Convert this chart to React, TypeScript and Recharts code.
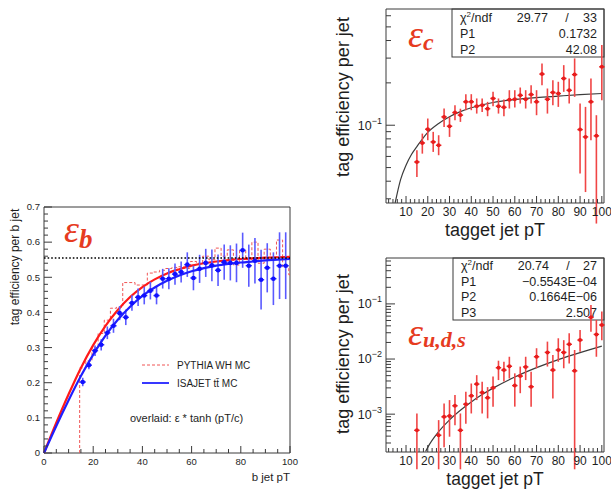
import React from 'react';
import { ComposedChart, Line, Scatter, ErrorBar, XAxis, YAxis, ReferenceLine, ReferenceArea, Legend, Label } from 'recharts';

const W = 611;
const H = 493;
const FONT = '"Liberation Sans", Arial, Helvetica, sans-serif';
const SERIF = '"Liberation Serif", "DejaVu Serif", serif';
const AXIS = '#3a3a3a';
const INK = '#1e1e1e';
const EPS_RED = '#e63b1f';

// ---- b jet panel ----
const FIT_X = [0, 5, 10, 15, 20, 25, 30, 35, 40, 45, 50, 55, 60, 65, 70, 75, 80, 85, 90, 95, 100];
const PYTHIA_FIT = [0, 0.086, 0.167, 0.242, 0.307, 0.362, 0.407, 0.444, 0.472, 0.494, 0.511, 0.523, 0.533, 0.54, 0.545, 0.549, 0.552, 0.554, 0.556, 0.557, 0.558];
const ISAJET_FIT = [0, 0.077, 0.15, 0.219, 0.28, 0.334, 0.379, 0.416, 0.447, 0.471, 0.49, 0.505, 0.517, 0.526, 0.533, 0.538, 0.542, 0.545, 0.548, 0.55, 0.552];
const HIST_EDGE = [14.5, 17, 19.5, 22, 24.5, 27, 29.5, 32, 34.5, 37, 39.5, 42, 44.5, 47, 49.5, 52, 54.5, 57, 59.5, 62, 64.5, 67, 69.5, 72, 74.5, 77, 79.5, 82, 84.5, 87, 89.5, 92, 94.5, 97, 99.5, 100];
const HIST_VAL = [0.242, 0.262, 0.3, 0.34, 0.378, 0.412, 0.415, 0.485, 0.485, 0.478, 0.478, 0.512, 0.515, 0.52, 0.525, 0.528, 0.53, 0.525, 0.545, 0.54, 0.56, 0.55, 0.583, 0.56, 0.578, 0.535, 0.578, 0.55, 0.6, 0.54, 0.58, 0.555, 0.606, 0.53, 0.507, 0.507];
const ISA_X = [15.75, 18.25, 20.75, 23.25, 25.75, 28.25, 30.75, 33.25, 35.75, 38.25, 40.75, 43.25, 45.75, 48.25, 50.75, 53.25, 55.75, 58.25, 60.75, 63.25, 65.75, 68.25, 70.75, 73.25, 75.75, 78.25, 80.75, 83.25, 85.75, 88.25, 90.75, 93.25, 95.75, 98.25];
const ISA_Y = [0.202, 0.25, 0.291, 0.308, 0.342, 0.362, 0.398, 0.386, 0.427, 0.443, 0.448, 0.462, 0.448, 0.496, 0.496, 0.509, 0.515, 0.536, 0.498, 0.524, 0.541, 0.534, 0.52, 0.543, 0.541, 0.541, 0.577, 0.533, 0.547, 0.493, 0.527, 0.496, 0.533, 0.533];
const ISA_ERR = [0.012, 0.012, 0.015, 0.016, 0.018, 0.02, 0.02, 0.022, 0.022, 0.025, 0.025, 0.025, 0.025, 0.028, 0.03, 0.03, 0.03, 0.035, 0.035, 0.04, 0.04, 0.045, 0.045, 0.05, 0.05, 0.055, 0.05, 0.06, 0.065, 0.085, 0.07, 0.075, 0.095, 0.095];
const B_PLATEAU = 0.555;
const B_X_MAJOR = [0, 20, 40, 60, 80, 100];
const B_Y_MAJOR = [0, 0.1, 0.2, 0.3, 0.4, 0.5, 0.6, 0.7];
const LEGEND_LABELS = ['PYTHIA WH MC', 'ISAJET t\u0074\u0304 MC'];

// ---- c jet panel ----
const C_X = [15, 17.5, 20, 22.5, 25, 27.5, 30, 32.5, 35, 37.5, 40, 42.5, 45, 47.5, 50, 52.5, 55, 57.5, 60, 62.5, 65, 67.5, 70, 72.5, 75, 77.5, 80, 82.5, 85, 87.5, 90, 92.5, 95, 97.5, 100];
const C_Y = [0.0548, 0.0748, 0.0937, 0.0761, 0.072, 0.1146, 0.0984, 0.123, 0.118, 0.1466, 0.1466, 0.1365, 0.1388, 0.131, 0.155, 0.1365, 0.134, 0.152, 0.153, 0.163, 0.153, 0.165, 0.1466, 0.231, 0.153, 0.171, 0.168, 0.215, 0.177, 0.229, 0.0931, 0.0826, 0.1466, 0.084, 0.26];
const C_LO = [0.0429, 0.0628, 0.0782, 0.0646, 0.0612, 0.0973, 0.0826, 0.1085, 0.1056, 0.1279, 0.1279, 0.121, 0.1244, 0.1159, 0.1365, 0.121, 0.1159, 0.1314, 0.1337, 0.1426, 0.1314, 0.1426, 0.1178, 0.1926, 0.121, 0.1388, 0.135, 0.1727, 0.1426, 0.1591, 0.0453, 0.0335, 0.0782, 0.02, 0.1506];
const C_HI = [0.0664, 0.0872, 0.1116, 0.0897, 0.0849, 0.1314, 0.1146, 0.1388, 0.131, 0.1662, 0.1662, 0.155, 0.155, 0.1466, 0.1727, 0.155, 0.1524, 0.1774, 0.1774, 0.1854, 0.1774, 0.1926, 0.1774, 0.2748, 0.1824, 0.209, 0.2036, 0.2673, 0.2146, 0.2984, 0.1426, 0.135, 0.2146, 0.1178, 0.3711];
const C_FIT_X = [5, 7.5, 10, 12.5, 15, 20, 25, 30, 35, 40, 50, 60, 70, 80, 90, 100];
const C_FIT = [0.028, 0.041, 0.052, 0.062, 0.0705, 0.089, 0.103, 0.115, 0.125, 0.133, 0.145, 0.152, 0.157, 0.161, 0.165, 0.168];
const C_STATS = [['P1', '0.1732'], ['P2', '42.08']];
const C_CHI = ['29.77', '33'];

// ---- u,d,s jet panel ----
const U_X = [15, 25, 27.5, 30, 32.5, 35, 37.5, 40, 42.5, 45, 47.5, 50, 52.5, 55, 57.5, 60, 62.5, 65, 67.5, 70, 75, 77.5, 80, 82.5, 85, 87.5, 90, 95, 97.5, 100];
const U_Y = [5.1e-4, 4.15e-4, 8.95e-4, 9.3e-4, 1.42e-3, 5.1e-4, 1.52e-3, 2.15e-3, 3.51e-3, 2.47e-3, 1.98e-3, 3.0e-3, 6.95e-3, 6.3e-3, 7.4e-3, 3.3e-3, 4.9e-3, 7.2e-3, 3.15e-3, 1.1e-2, 1.32e-2, 6.3e-3, 1.46e-2, 1.32e-2, 1.85e-2, 6.1e-3, 2.21e-2, 5.7e-2, 2.8e-2, 4.15e-2];
const U_LO = [1e-4, 1e-4, 2.5e-4, 3.9e-4, 6.3e-4, 1e-4, 6.7e-4, 1.03e-3, 1.8e-3, 1.03e-3, 8.4e-4, 1.37e-3, 4.15e-3, 3.9e-3, 4.45e-3, 1.37e-3, 2.4e-3, 4.15e-3, 1.37e-3, 6.8e-3, 7.3e-3, 1.93e-3, 8.9e-3, 6.8e-3, 8.3e-3, 1e-4, 1.36e-2, 3.14e-2, 1.1e-2, 2.2e-2];
const U_HI = [1.03e-3, 7.8e-4, 1.56e-3, 1.8e-3, 2.22e-3, 1.03e-3, 2.56e-3, 3.6e-3, 5.1e-3, 3.87e-3, 3.1e-3, 4.8e-3, 9.33e-3, 8.9e-3, 1.1e-2, 5.5e-3, 7.3e-3, 1.1e-2, 5.9e-3, 1.57e-2, 2.07e-2, 1.18e-2, 2.38e-2, 2.2e-2, 2.93e-2, 1.46e-2, 3.37e-2, 9.6e-2, 5.1e-2, 7.25e-2];
const U_FIT_X = [19, 20, 25, 30, 35, 40, 45, 50, 60, 70, 80, 90, 100];
const U_FIT = [2.1e-4, 2.5e-4, 4.8e-4, 7.9e-4, 1.18e-3, 1.67e-3, 2.27e-3, 2.97e-3, 4.72e-3, 6.97e-3, 9.77e-3, 1.31e-2, 1.71e-2];
const U_STATS = [['P1', '\u22120.5543E\u221204'], ['P2', '0.1664E\u221206'], ['P3', '2.507']];
const U_CHI = ['20.74', '27'];

const R_X_MAJOR = [10, 20, 30, 40, 50, 60, 70, 80, 90, 100];
const C_Y_MAJOR = [0.1];
const U_Y_MAJOR = [0.001, 0.01, 0.1];
const DECADE_EXP: Record<string, string> = { '0.1': '\u22121', '0.01': '\u22122', '0.001': '\u22123' };

const BIN_HALF = 1.25;

// built tables
const pythiaFit = FIT_X.map((x, i) => ({ x, y: PYTHIA_FIT[i] }));
const isajetFit = FIT_X.map((x, i) => ({ x, y: ISAJET_FIT[i] }));
const pythiaHist = [{ x: HIST_EDGE[0], y: 0 }, ...HIST_EDGE.map((x, i) => ({ x, y: HIST_VAL[i] }))];
const isajetPts = ISA_X.map((x, i) => ({ x, y: ISA_Y[i], ex: BIN_HALF, ey: ISA_ERR[i] }));
const cPts = C_X.map((x, i) => ({ x, y: C_Y[i], ex: BIN_HALF, ey: [C_Y[i] - C_LO[i], C_HI[i] - C_Y[i]] }));
const cFit = C_FIT_X.map((x, i) => ({ x, y: C_FIT[i] }));
const uPts = U_X.map((x, i) => ({ x, y: U_Y[i], ex: BIN_HALF, ey: [U_Y[i] - U_LO[i], U_HI[i] - U_Y[i]] }));
const uFit = U_FIT_X.map((x, i) => ({ x, y: U_FIT[i] }));

const subdivide = (major: number[], n: number) => {
  const out: number[] = [];
  for (let i = 0; i < major.length - 1; i++) {
    const step = (major[i + 1] - major[i]) / n;
    for (let k = 0; k < n; k++) out.push(major[i] + k * step);
  }
  out.push(major[major.length - 1]);
  return out;
};
const logTicks = (lo: number, hi: number) => {
  const out: number[] = [];
  for (let e = -5; e <= 0; e++) {
    for (let k = 1; k <= 9; k++) {
      const v = k * Math.pow(10, e);
      if (v >= lo && v <= hi) out.push(v);
    }
  }
  return out;
};

const B_X_TICKS = subdivide(B_X_MAJOR, 4);
const B_Y_TICKS = subdivide(B_Y_MAJOR, 5);
const R_X_TICKS = subdivide([0, ...R_X_MAJOR], 5).filter((v) => v > 1);
const C_Y_TICKS = logTicks(0.028, 0.67);
const U_Y_TICKS = logTicks(2.06e-4, 0.68);

const isIn = (list: number[], v: number) => list.some((m) => Math.abs(m - v) <= Math.abs(m) * 1e-6 + 1e-12);

function yTick(major: number[], fmt: (v: number) => React.ReactNode, fs: number, big: number, small: number) {
  return (p: any) => {
    const v = p.payload.value;
    const m = isIn(major, v);
    return (
      <g>
        <line x1={p.x} x2={p.x + (m ? big : small)} y1={p.y} y2={p.y} stroke={AXIS} strokeWidth={1} />
        {m ? (
          <text x={p.x - 4} y={p.y} dy="0.35em" textAnchor="end" fontSize={fs} fontFamily={FONT} fill={INK}>
            {fmt(v)}
          </text>
        ) : null}
      </g>
    );
  };
}

function xTick(major: number[], fs: number, big: number, small: number, gap: number) {
  return (p: any) => {
    const v = p.payload.value;
    const m = isIn(major, v);
    return (
      <g>
        <line x1={p.x} x2={p.x} y1={p.y} y2={p.y - (m ? big : small)} stroke={AXIS} strokeWidth={1} />
        {m ? (
          <text x={p.x} y={p.y + gap} textAnchor="middle" fontSize={fs} fontFamily={FONT} fill={INK}>
            {v}
          </text>
        ) : null}
      </g>
    );
  };
}

const decadeLabel = (fs: number) => (v: number) => (
  <>
    <tspan>10</tspan>
    <tspan dy={-6} fontSize={fs * 0.72}>{DECADE_EXP[String(v)]}</tspan>
  </>
);

const xTitle = (text: string, dy: number, fs: number, align: 'middle' | 'end') => (p: any) => {
  const vb = p.viewBox;
  const x = align === 'end' ? vb.x + vb.width : vb.x + vb.width / 2;
  return (
    <text x={x} y={vb.y + dy} textAnchor={align} dominantBaseline="central" fontSize={fs} fontFamily={FONT} fill={INK}>
      {text}
    </text>
  );
};

const yTitle = (text: string, dx: number, dy: number, fs: number) => (p: any) => {
  const vb = p.viewBox;
  const cx = vb.x + dx;
  const cy = vb.y + vb.height / 2 + dy;
  return (
    <text transform={`translate(${cx},${cy}) rotate(-90)`} textAnchor="middle" dominantBaseline="central" fontSize={fs} fontFamily={FONT} fill={INK}>
      {text}
    </text>
  );
};

const dot = (color: string, r: number) => (p: any) => <circle cx={p.cx} cy={p.cy} r={r} fill={color} />;

function StatsBox({ x, y, w, rowH, chi, rows }: { x: number; y: number; w: number; rowH: number; chi: string[]; rows: string[][] }) {
  const right = x + w - 7;
  const base = (i: number) => y + rowH * i + rowH / 2 + 4.5;
  return (
    <g fontFamily={FONT} fontSize={12.5} fill={INK}>
      <rect x={x} y={y} width={w} height={rowH * (rows.length + 1)} fill="#fff" stroke={AXIS} strokeWidth={1} />
      <text x={x + 8} y={base(0)}>
        <tspan>χ</tspan>
        <tspan dy={-5} fontSize={8}>2</tspan>
        <tspan dy={5}>/ndf</tspan>
      </text>
      <text x={x + 96} y={base(0)} textAnchor="end">{chi[0]}</text>
      <text x={x + 115} y={base(0)} textAnchor="middle">/</text>
      <text x={right} y={base(0)} textAnchor="end">{chi[1]}</text>
      {rows.map((r, i) => (
        <g key={r[0]}>
          <text x={x + 8} y={base(i + 1)}>{r[0]}</text>
          <text x={right} y={base(i + 1)} textAnchor="end">{r[1]}</text>
        </g>
      ))}
    </g>
  );
}

const legendContent = () => (
  <div style={{ fontFamily: FONT, fontSize: 10, color: INK }}>
    {LEGEND_LABELS.map((label, i) => (
      <div key={label} style={{ display: 'flex', alignItems: 'center', height: 18 }}>
        <svg width={27} height={4}>
          <line x1={0} x2={27} y1={2} y2={2} stroke={i === 0 ? '#f05555' : '#2222ff'} strokeWidth={i === 0 ? 1 : 1.8} strokeDasharray={i === 0 ? '3 2' : undefined} />
        </svg>
        <span style={{ marginLeft: 8, whiteSpace: 'nowrap' }}>{label}</span>
      </div>
    ))}
  </div>
);

function BPanel() {
  return (
    <ComposedChart width={W} height={H} margin={{ top: 207, right: 321, bottom: 10, left: 4 }}>
      <XAxis type="number" dataKey="x" domain={[0, 100]} ticks={B_X_TICKS} interval={0} height={30} tickSize={0} tickMargin={0} axisLine={false} tick={xTick(B_X_MAJOR, 9.5, 7, 4, 12)}>
        <Label content={xTitle('b jet pT', 24, 11.5, 'end')} />
      </XAxis>
      <YAxis type="number" dataKey="y" domain={[0, 0.7]} ticks={B_Y_TICKS} interval={0} width={40} tickSize={0} tickMargin={0} axisLine={false} tick={yTick(B_Y_MAJOR, (v) => (v === 0 ? '0' : v.toFixed(1)), 9.5, 8, 4)}>
        <Label content={yTitle('tag efficiency per b jet', 11, -63, 12)} />
      </YAxis>
      <ReferenceArea x1={0} x2={100} y1={0} y2={0.7} fill="none" stroke={AXIS} strokeWidth={1} />
      <Line data={pythiaHist} dataKey="y" type="stepAfter" stroke="#f05555" strokeWidth={1} strokeDasharray="3 2" dot={false} isAnimationActive={false} />
      <Line data={pythiaFit} dataKey="y" type="monotone" stroke="#ff1a1a" strokeWidth={2.2} dot={false} isAnimationActive={false} />
      <Scatter data={isajetPts} dataKey="y" shape={dot('#1010ff', 2.3)} isAnimationActive={false}>
        <ErrorBar dataKey="ey" direction="y" width={0} stroke="#5a5aff" strokeWidth={1.6} isAnimationActive={false} />
        <ErrorBar dataKey="ex" direction="x" width={0} stroke="#2a2aff" strokeWidth={1.4} isAnimationActive={false} />
      </Scatter>
      <Line data={isajetFit} dataKey="y" type="monotone" stroke="#1f1fff" strokeWidth={2.2} dot={false} isAnimationActive={false} />
      <ReferenceLine y={B_PLATEAU} stroke="#000" strokeWidth={1.6} strokeDasharray="1.6 2" />
      <Legend layout="vertical" align="center" verticalAlign="middle" wrapperStyle={{ left: 142, top: 356, width: 130 }} content={legendContent} />
      <text x={64} y={242} fill={EPS_RED} fontFamily={SERIF} fontStyle="italic" fontSize={38}>
        ε<tspan fontSize={27} fontWeight="bold" dy={6}>b</tspan>
      </text>
      <text x={130} y={422} fontFamily={FONT} fontSize={11} fill={INK}>
        overlaid:  ε * tanh (pT/c)
      </text>
    </ComposedChart>
  );
}

function CPanel() {
  return (
    <ComposedChart width={W} height={H} margin={{ top: 9, right: 7, bottom: 260, left: 346 }}>
      <XAxis type="number" dataKey="x" domain={[0.8, 101]} ticks={R_X_TICKS} interval={0} height={30} tickSize={0} tickMargin={0} axisLine={false} allowDataOverflow tick={xTick(R_X_MAJOR, 12, 7, 4, 13)}>
        <Label content={xTitle('tagget jet pT', 27, 18, 'middle')} />
      </XAxis>
      <YAxis type="number" dataKey="y" scale="log" domain={[0.028, 0.67]} allowDataOverflow ticks={C_Y_TICKS} interval={0} width={40} tickSize={0} tickMargin={0} axisLine={false} tick={yTick(C_Y_MAJOR, decadeLabel(12.5), 12.5, 9, 5)}>
        <Label content={yTitle('tag efficiency per jet', -3, -9, 18)} />
      </YAxis>
      <ReferenceArea x1={0.8} x2={101} y1={0.028} y2={0.67} fill="none" stroke={AXIS} strokeWidth={1} />
      <StatsBox x={452} y={9} w={152} rowH={16} chi={C_CHI} rows={C_STATS} />
      <text x={408} y={47} fill={EPS_RED} fontFamily={SERIF} fontStyle="italic" fontSize={38}>
        ε<tspan fontSize={24} fontWeight="bold" dy={3}>c</tspan>
      </text>
      <Line data={cFit} dataKey="y" type="monotone" stroke="#3c3c3c" strokeWidth={1.2} dot={false} isAnimationActive={false} />
      <Scatter data={cPts} dataKey="y" shape={dot('#e81c1c', 2)} isAnimationActive={false}>
        <ErrorBar dataKey="ey" direction="y" width={0} stroke="#f04545" strokeWidth={1.6} isAnimationActive={false} />
        <ErrorBar dataKey="ex" direction="x" width={0} stroke="#e82020" strokeWidth={1.4} isAnimationActive={false} />
      </Scatter>
    </ComposedChart>
  );
}

function UPanel() {
  return (
    <ComposedChart width={W} height={H} margin={{ top: 258, right: 7, bottom: 11, left: 346 }}>
      <XAxis type="number" dataKey="x" domain={[0.8, 101]} ticks={R_X_TICKS} interval={0} height={30} tickSize={0} tickMargin={0} axisLine={false} allowDataOverflow tick={xTick(R_X_MAJOR, 12, 7, 4, 12.5)}>
        <Label content={xTitle('tagget jet pT', 27, 17.5, 'middle')} />
      </XAxis>
      <YAxis type="number" dataKey="y" scale="log" domain={[2.06e-4, 0.68]} allowDataOverflow ticks={U_Y_TICKS} interval={0} width={40} tickSize={0} tickMargin={0} axisLine={false} tick={yTick(U_Y_MAJOR, decadeLabel(12.5), 12.5, 9, 5)}>
        <Label content={yTitle('tag efficiency per jet', -3, -1, 18)} />
      </YAxis>
      <ReferenceArea x1={0.8} x2={101} y1={2.06e-4} y2={0.68} fill="none" stroke={AXIS} strokeWidth={1} />
      <StatsBox x={453} y={258} w={151} rowH={15.5} chi={U_CHI} rows={U_STATS} />
      <text x={408} y={345} fill={EPS_RED} fontFamily={SERIF} fontStyle="italic" fontSize={38}>
        ε<tspan fontSize={22} fontWeight="bold" dy={2}>u,d,s</tspan>
      </text>
      <Line data={uFit} dataKey="y" type="monotone" stroke="#3c3c3c" strokeWidth={1.2} dot={false} isAnimationActive={false} />
      <Scatter data={uPts} dataKey="y" shape={dot('#e81c1c', 2)} isAnimationActive={false}>
        <ErrorBar dataKey="ey" direction="y" width={0} stroke="#f04545" strokeWidth={1.6} isAnimationActive={false} />
        <ErrorBar dataKey="ex" direction="x" width={0} stroke="#e82020" strokeWidth={1.4} isAnimationActive={false} />
      </Scatter>
    </ComposedChart>
  );
}

const layer: React.CSSProperties = { position: 'absolute', left: 0, top: 0, width: W, height: H };

export default function App() {
  return (
    <div style={{ position: 'absolute', left: 0, top: 0, width: W, height: H, background: '#fff', overflow: 'hidden' }}>
      <div style={layer}>
        <BPanel />
      </div>
      <div style={layer}>
        <CPanel />
      </div>
      <div style={layer}>
        <UPanel />
      </div>
    </div>
  );
}
